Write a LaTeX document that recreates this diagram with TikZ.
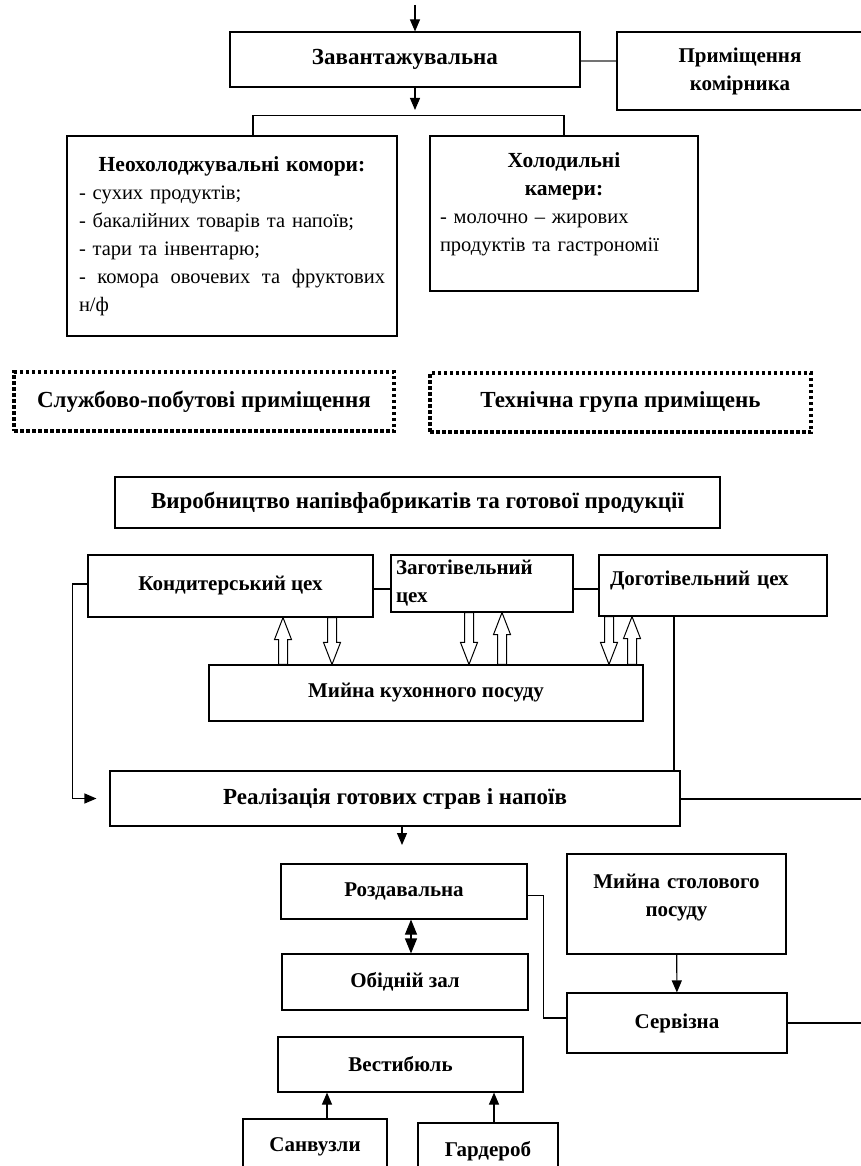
\documentclass[tikz,border=0pt]{standalone}
\usepackage{fontspec}
\setmainfont{Liberation Serif}
\usepackage{tikz}
\usetikzlibrary{arrows.meta}
\usetikzlibrary{calc}
\tikzstyle{room}=[rectangle,draw=black,inner sep=0pt,align=center,font=\bfseries\fontsize{21}{28}\selectfont]
\tikzstyle{big}=[font=\bfseries\fontsize{23}{28}\selectfont]
\tikzstyle{group}=[rectangle,draw=black,line width=3.5pt,dash pattern=on 3.5pt off 2.5pt,inner sep=0pt,big]
\tikzstyle{list}=[font=\fontsize{20.5}{28}\selectfont,align=left]
\tikzstyle{flow}=[-{Triangle[width=10pt,length=12pt]}]
\tikzstyle{both}=[{Triangle[width=12pt,length=15pt]}-{Triangle[width=12pt,length=15pt]}]
\tikzstyle{hollow}=[line width=1pt,to path={let \p1=(\tikztostart),\p2=(\tikztotarget),\n1={sign(\y2-\y1)} in
  (\x1-4.5pt,\y1) -- (\x1-4.5pt,{\y2-\n1*22pt}) -- (\x1-8.5pt,{\y2-\n1*22pt}) -- (\x1,\y2)
  -- (\x1+8.5pt,{\y2-\n1*22pt}) -- (\x1+4.5pt,{\y2-\n1*22pt}) -- (\x1+4.5pt,\y1) -- cycle}]
\newcommand\boxhead[1]{{\bfseries\fontsize{21.5}{28}\selectfont #1}}
\newcommand\lowpad[1]{\rule[-#1]{0pt}{#1}}
\tikzset{every picture/.style={
    line width=1.1pt
  }
}

\begin{document}
\begin{tikzpicture}[x=1pt,y=-1pt]
  \useasboundingbox (0,0) rectangle (860,1166);
  % storage group
  \node[room,big,minimum width=350,minimum height=55] at (405,59.5) (load) {Завантажувальна};
  \node[room,minimum width=246,minimum height=78] at (740,71) (keeper) {Приміщення\\комірника};
  \node[room,list,minimum width=330,minimum height=200,text width=306pt] at (232,236) (dry)
    {\centering\boxhead{Неохолоджувальні комори:}\par\raggedright
     - сухих продуктів;\par
     - бакалійних товарів та напоїв;\par
     - тари та інвентарю;\par
     -\hfill комора\hfill овочевих\hfill та\hfill фруктових\par
     н/ф};
  \node[room,list,minimum width=268,minimum height=155,text width=248pt] at (564,213.5) (cold)
    {\centering\boxhead{Холодильні\\камери:}\par\raggedright
     - молочно – жирових\\продуктів та гастрономії\lowpad{22pt}};
  \coordinate (in) at (415,5);
  \coordinate (down) at (415,110);
  \draw[flow] (in) -- (in |- load.north);
  \draw[flow] (down |- load.south) -- (down);
  \draw[draw=black!55,line width=2pt] ([yshift=-1.5pt]load.east) -- ([yshift=-1.5pt]load.east -| keeper.west);
  \draw ([xshift=21pt]dry.north) -- ++(0,-20) -| (cold.north);
  % other groups
  \node[group,minimum width=380,minimum height=59] at (204,401.5) (staff) {Службово-побутові приміщення};
  \node[group,minimum width=381,minimum height=59] at (620.5,402.5) (tech) {Технічна група приміщень};
  % production
  \node[room,big,minimum width=605,minimum height=51] at (417.5,502.5) (prod) {Виробництво напівфабрикатів та готової продукції};
  \node[room,minimum width=285,minimum height=62] at (230.5,586) (kond) {Кондитерський цех};
  \node[room,minimum width=182,minimum height=57,text width=172pt,align=left] at (482,583.5) (zag) {Заготівельний\\цех};
  \node[room,minimum width=228,minimum height=61,text width=206pt,align=left] at (713,585.5) (dog) {Доготівельний цех\lowpad{14pt}};
  \node[room,minimum width=434,minimum height=56] at (426,693) (mij) {Мийна кухонного посуду};
  \draw ([yshift=-3pt]kond.east) -- ([yshift=-3pt]kond.east -| zag.west);
  \draw ([yshift=-5.5pt]zag.east) -- ([yshift=-5.5pt]zag.east -| dog.west);
  \foreach \x/\a/\b in {283/mij.north/kond.south, 332/kond.south/mij.north,
                        469/zag.south/mij.north, 502/mij.north/zag.south,
                        609/dog.south/mij.north, 632/mij.north/dog.south} {
    \coordinate (h) at (\x,0);
    \draw[hollow] (\a -| h) to (\b -| h);
  }
  % service
  \node[room,big,minimum width=570,minimum height=55] at (395,798.5) (real) {Реалізація готових страв і напоїв};
  \coordinate (dr) at (674,0);
  \coordinate (rend) at (862,799);
  \draw[flow,shorten >=13pt] ([yshift=2pt]kond.west) -- ++(-15,0) |- (real.west);
  \draw (dog.south -| dr) -- ([yshift=-2pt]dr |- real.north);
  \draw (real.east |- rend) -- (rend);
  \node[room,minimum width=246,minimum height=55] at (404,891.5) (rozd) {Роздавальна};
  \node[room,minimum width=246,minimum height=56] at (405,982) (hall) {Обідній зал};
  \node[room,minimum width=219,minimum height=100,text width=219pt] at (676.5,904) (wash) {Мийна столового\\посуду\lowpad{18pt}};
  \node[room,minimum width=220,minimum height=60] at (677,1023) (servis) {Сервізна};
  \coordinate (rarr) at (402,845);
  \coordinate (dd) at (411,0);
  \coordinate (send) at (862,1023);
  \draw[flow] (rarr |- real.south) -- (rarr);
  \draw[both] (rozd.south -| dd) -- (hall.north -| dd);
  \draw ([yshift=-4pt]rozd.east) -- ++(16,0) |- ([yshift=5pt]servis.west);
  \draw[flow] (wash) -- (servis);
  \draw (servis.east) -- (send);
  % entrance
  \node[room,minimum width=245,minimum height=55] at (400.5,1064.5) (vest) {Вестибюль};
  \node[room,minimum width=144,minimum height=56] at (315,1147) (wc) {Санвузли};
  \node[room,minimum width=140,minimum height=56] at (488,1151) (ward) {Гардероб};
  \coordinate (v1) at (327,0);
  \coordinate (v2) at (494,0);
  \draw[flow] (wc.north -| v1) -- (vest.south -| v1);
  \draw[flow] (ward.north -| v2) -- (vest.south -| v2);
\end{tikzpicture}
\end{document}
